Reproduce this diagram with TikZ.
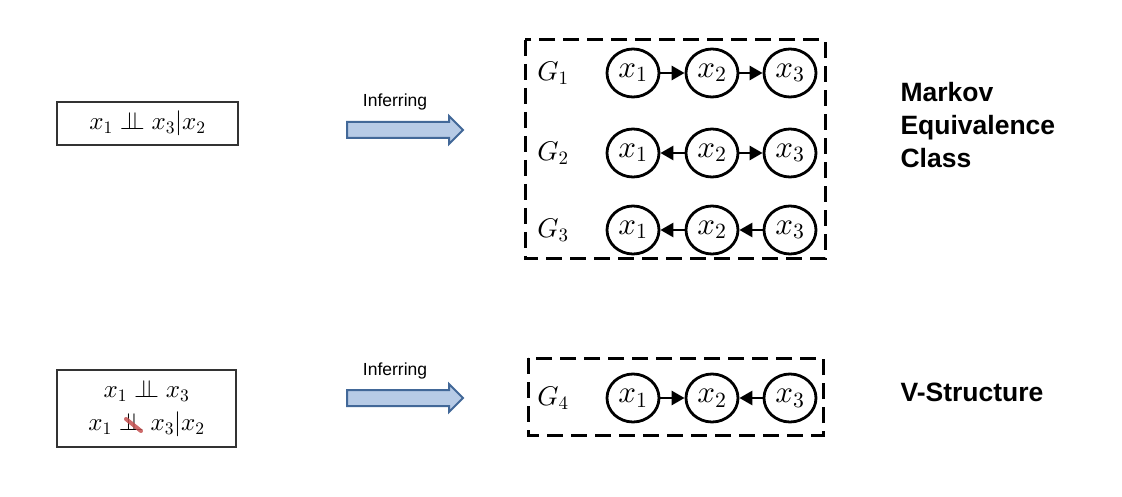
\documentclass[tikz,border=0pt]{standalone}
\usepackage{fontspec}
\setsansfont{Liberation Sans}
\DeclareFontShape{OML}{cmm}{m}{it}{<->cmmi10}{}
\DeclareFontShape{OMS}{cmsy}{m}{n}{<->cmsy10}{}
\DeclareFontShape{OT1}{cmr}{m}{n}{<->cmr10}{}
\usetikzlibrary{arrows.meta}
\usetikzlibrary{shapes.geometric}
\usetikzlibrary{shapes.arrows}
\definecolor{arrowfill}{RGB}{183,203,230}
\definecolor{arrowedge}{RGB}{66,104,152}
\definecolor{crossred}{RGB}{196,80,80}
\newcommand{\indep}{\mathrel{\perp\mkern-10mu\perp}}

\begin{document}
\begin{tikzpicture}[x=1pt,y=-1pt,
        var/.style={draw,ellipse,line width=2.8pt,minimum width=52pt,minimum height=48pt,inner sep=0pt,font=\fontsize{31}{33}\selectfont},
        edge/.style={line width=2.8pt,-{Triangle[length=13pt,width=14pt]}},
        glabel/.style={font=\fontsize{27}{30}\selectfont},
        graphbox/.style={line width=3pt,dash pattern=on 16pt off 8pt},
        cibox/.style={draw=black!80,line width=1.2pt,align=center,font=\fontsize{25}{33}\selectfont},
        infer/.style={single arrow,draw=arrowedge,fill=arrowfill,line width=2pt,minimum height=116pt,single arrow head extend=6pt,inner sep=7pt},
        lbl/.style={font=\sffamily\fontsize{17.5}{20}\selectfont},
        title/.style={font=\sffamily\bfseries\fontsize{26.5}{33}\selectfont,align=left,anchor=west}]

            \useasboundingbox (0,0) rectangle (1122,497);

            % independence statements
            \node[cibox,minimum width=181pt,minimum height=43pt] (ci1) at (147.5,123.5) {$x_1 \indep x_3|x_2$};
            \node[cibox,minimum width=179pt,minimum height=77pt] (ci2) at (146.5,408.5) {$x_1 \indep x_3$\\$x_1 \indep x_3|x_2$};
            \draw[crossred,line width=4pt,line cap=round,opacity=.85] (126,419) -- (141,431);

            % inferring arrows
            \node[infer] (inf1) at (401,130) {};
            \node[lbl] (inf1txt) at (395,102) {Inferring};
            \node[infer] (inf2) at (401,398) {};
            \node[lbl] (inf2txt) at (395,371) {Inferring};

            % graphs
            \draw[graphbox] (525,40) rectangle (825,259);
            \draw[graphbox] (528,358) rectangle (823,435);
            \foreach \g/\y in {1/73,2/153,3/230,4/398} {
                \node[glabel] (G\g) at (553,\y) {$G_{\g}$};
                \foreach \i/\x in {1/633,2/712,3/790}
                    \node[var] (n\g\i) at (\x,\y) {$x_{\i}$};
            }
            \foreach \a/\b in {n11/n12,n12/n13,n22/n21,n22/n23,n32/n31,n33/n32,n41/n42,n43/n42} {
                \draw[edge] (\a) -- (\b);
            }

            \node[title] (mec) at (897,125) {Markov\\Equivalence\\Class};
            \node[title] (vs) at (897,392) {V-Structure};
\end{tikzpicture}
\end{document}
